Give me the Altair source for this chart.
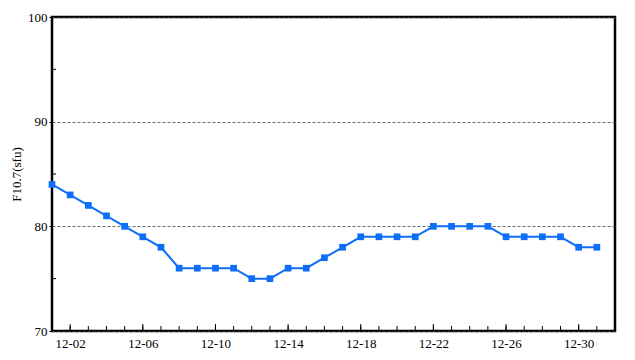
import altair as alt
import pandas as pd

days = list(range(1, 32))
f107 = [84, 83, 82, 81, 80, 79, 78, 76, 76, 76, 76, 75, 75, 76, 76, 77, 78,
        79, 79, 79, 79, 80, 80, 80, 80, 79, 79, 79, 79, 78, 78]
label_days = [2, 6, 10, 14, 18, 22, 26, 30]
y_labels = [70, 80, 90, 100]
y_minor = [75, 85, 95]

W, H = 563, 314
FONT = "Liberation Serif"
COLOR = "#0f6ef8"

df = pd.DataFrame({"day": days, "f107": f107})
minor_df = pd.DataFrame({"day": days})
major_df = pd.DataFrame({"day": label_days})
ymin_df = pd.DataFrame({"v": y_minor})

xscale = alt.Scale(domain=[1, 32], nice=False, zero=False)
yscale = alt.Scale(domain=[70, 100], nice=False, zero=False)

xaxis = alt.Axis(values=label_days, labelExpr="'12-' + (datum.value < 10 ? '0' : '') + datum.value",
                 ticks=False, grid=False, domain=False, title=None, labelPadding=6)
yaxis = alt.Axis(values=y_labels, grid=True, gridDash=[3, 2], gridColor="#444", gridWidth=0.8,
                 tickSize=3, tickColor="#000", domain=False, title="F10.7(sfu)",
                 titlePadding=4, labelPadding=2)

line = alt.Chart(df).mark_line(color=COLOR, strokeWidth=2).encode(
    x=alt.X("day:Q", scale=xscale, axis=xaxis),
    y=alt.Y("f107:Q", scale=yscale, axis=yaxis),
)
pts = alt.Chart(df).mark_square(color=COLOR, size=45, opacity=1).encode(
    x=alt.X("day:Q", scale=xscale),
    y=alt.Y("f107:Q", scale=yscale),
)
minor_ticks = alt.Chart(minor_df).mark_rule(color="#000", strokeWidth=1).encode(
    x=alt.X("day:Q", scale=xscale),
    y=alt.value(H), y2=alt.value(H - 5),
)
major_ticks = alt.Chart(major_df).mark_rule(color="#000", strokeWidth=1).encode(
    x=alt.X("day:Q", scale=xscale),
    y=alt.value(H), y2=alt.value(H - 7),
)
y_minor_ticks = alt.Chart(ymin_df).mark_rule(color="#000", strokeWidth=1).encode(
    y=alt.Y("v:Q", scale=yscale),
    x=alt.value(0), x2=alt.value(4),
)

chart = alt.layer(minor_ticks, major_ticks, y_minor_ticks, line, pts).properties(
    width=W, height=H,
    background="white",
    autosize=alt.AutoSizeParams(type="none"),
    padding={"left": 44, "top": 9, "right": 10, "bottom": 20},
).configure(font=FONT).configure_view(stroke="#000", strokeWidth=2.5).configure_axis(
    labelFont=FONT, labelFontSize=13, labelColor="#000",
    titleFont=FONT, titleFontSize=13, titleFontWeight="normal", titleColor="#000",
)

chart.save("out.html", embed_options={"renderer": "svg", "actions": False})
